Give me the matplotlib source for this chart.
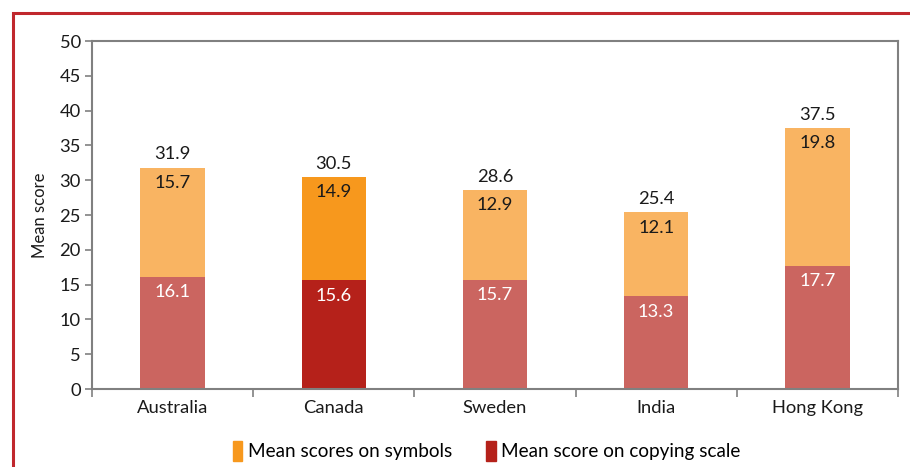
import numpy as np
import matplotlib.pyplot as plt
from matplotlib.patches import Rectangle
from matplotlib.patches import Patch

plt.rcParams['font.family'] = ['Lato', 'DejaVu Sans']

countries = ["Australia", "Canada", "Sweden", "India", "Hong Kong"]
copying = [16.1, 15.6, 15.7, 13.3, 17.7]
symbols = [15.7, 14.9, 12.9, 12.1, 19.8]
totals = [31.9, 30.5, 28.6, 25.4, 37.5]

# Canada is highlighted with the stronger shades
sym_colors = ['#F9B462', '#F7981D', '#F9B462', '#F9B462', '#F9B462']
copy_colors = ['#CB6560', '#B5211A', '#CB6560', '#CB6560', '#CB6560']

fig = plt.figure(figsize=(9.1, 4.67), dpi=100)
ax = fig.add_axes([0.1011, 0.167, 0.8857, 0.745])

x = np.arange(len(countries))
w = 0.40
fs = 13.2
ax.bar(x, copying, w, color=copy_colors)
ax.bar(x, symbols, w, bottom=copying, color=sym_colors)

for i in range(len(countries)):
    ax.text(x[i], copying[i] - 2.2, f"{copying[i]}", ha='center', va='center',
            color='white', fontsize=fs)
    ax.text(x[i], copying[i] + symbols[i] - 2.2, f"{symbols[i]}", ha='center',
            va='center', color='#1a1a1a', fontsize=fs)
    ax.text(x[i], totals[i] + 1.9, f"{totals[i]}", ha='center', va='center',
            color='#1a1a1a', fontsize=fs)

ax.set_xlim(-0.5, len(countries) - 0.5)
ax.set_ylim(0, 50)
ax.set_yticks(range(0, 51, 5))
ax.set_xticks(x)
ax.set_xticklabels(countries, fontsize=fs, color='#1a1a1a')
ax.set_xticks(np.arange(-0.5, len(countries)), minor=True)
ax.tick_params(axis='x', which='major', length=0, pad=8)
ax.tick_params(axis='x', which='minor', length=6, color='#808080', width=1.2)
ax.tick_params(axis='y', length=5, color='#808080', width=1.2, labelsize=fs,
               labelcolor='#1a1a1a', pad=3)
for s in ax.spines.values():
    s.set_color('#808080')
    s.set_linewidth(1.5)
ax.set_ylabel("Mean score", fontsize=12, color='#1a1a1a', labelpad=8)

handles = [Patch(color='#F7981D'), Patch(color='#B5211A')]
fig.legend(handles, ["Mean scores on symbols", "Mean score on copying scale"],
           loc='center', bbox_to_anchor=(0.535, 0.034), ncol=2, frameon=False,
           fontsize=13.6, handlelength=0.5, handleheight=1.3, handletextpad=0.3,
           columnspacing=1.8)

# red frame running off the right and bottom edges
fig.patches.append(Rectangle((13 / 910, -0.2), 1.0, 1 - 13 / 467 + 0.2,
                             transform=fig.transFigure, fill=False,
                             edgecolor='#C0272D', linewidth=2.2))

fig.savefig("out.png", dpi=100)
